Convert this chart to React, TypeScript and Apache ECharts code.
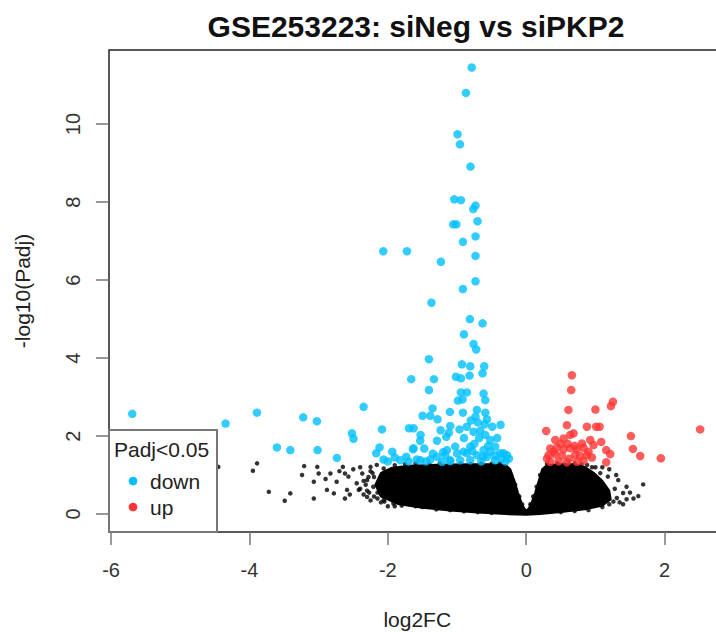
import React, { useEffect, useRef } from "react";
import * as echarts from "echarts";

const TITLE = "GSE253223: siNeg vs siPKP2";
const X_NAME = "log2FC";
const Y_NAME = "-log10(Padj)";
const LEGEND_TITLE = "Padj<0.05";
const LEGEND_LABELS = ["down", "up"];
const X_TICKS = [-6, -4, -2, 0, 2];
const Y_TICKS = [0, 2, 4, 6, 8, 10];

// significantly down-regulated genes [log2FC, -log10(Padj)]
const downPoints: number[][] = [
  [-0.788, 11.45], [-0.871, 10.8], [-0.993, 9.74], [-0.958, 9.48], [-0.805, 8.91],
  [-1.04, 8.07], [-0.944, 8.05], [-0.733, 7.91], [-0.766, 7.82], [-1.055, 7.43],
  [-1.01, 7.43], [-0.704, 7.51], [-0.733, 7.12], [-0.915, 6.98], [-2.066, 6.74],
  [-1.724, 6.74], [-1.233, 6.47], [-0.733, 6.62], [-0.733, 5.97], [-0.915, 5.77],
  [-1.37, 5.42], [-0.814, 5.0], [-0.631, 4.89], [-0.9, 4.61], [-0.761, 4.36],
  [-0.723, 4.22], [-1.406, 3.97], [-0.929, 3.84], [-0.809, 3.79], [-0.607, 3.79],
  [-1.016, 3.52], [-0.944, 3.48], [-0.819, 3.55], [-0.631, 3.61], [-1.662, 3.46],
  [-1.334, 3.46], [-1.406, 3.18], [-0.944, 3.12], [-0.857, 3.12], [-0.617, 3.09],
  [-0.592, 2.92], [-0.987, 2.91], [-0.92, 2.94], [-1.354, 2.71], [-1.103, 2.62],
  [-1.498, 2.52], [-1.387, 2.52], [-1.282, 2.43], [-0.915, 2.6], [-0.713, 2.67],
  [-0.733, 2.5], [-0.592, 2.6], [-0.568, 2.43], [-1.098, 2.26], [-1.238, 2.15],
  [-1.695, 2.2], [-1.628, 2.2], [-2.085, 2.17], [-1.527, 2.03], [-1.117, 2.09],
  [-0.964, 2.17], [-0.857, 2.24], [-0.762, 2.11], [-0.665, 2.14], [-0.491, 2.24],
  [-0.371, 2.29], [-1.532, 1.88], [-1.29, 1.88], [-1.156, 1.98], [-1.474, 1.68],
  [-1.637, 1.66], [-1.936, 1.6], [-2.12, 1.71], [-2.168, 1.56], [-2.062, 1.4],
  [-1.82, 1.38], [-1.734, 1.47], [-1.58, 1.4], [-1.387, 1.4], [-1.17, 1.51],
  [-1.026, 1.73], [-0.906, 1.6], [-0.809, 1.73], [-0.713, 1.51], [-0.617, 1.64],
  [-0.568, 1.47], [-0.448, 1.73], [-0.328, 1.56], [-0.279, 1.51], [-0.52, 1.9],
  [-0.592, 2.03], [-0.809, 1.38], [-0.954, 1.38], [-1.098, 1.36], [-1.218, 1.34],
  [-1.146, 1.64], [-1.29, 1.47], [-1.63, 1.69], [-1.2, 1.59], [-0.857, 1.56],
  [-0.52, 1.6], [-0.376, 1.56], [-1.53, 1.38], [-1.1, 1.38], [-0.65, 1.35],
  [-0.45, 1.38], [-0.35, 1.42], [-0.75, 1.8], [-0.68, 1.95], [-0.9, 1.95],
  [-1.0, 1.55], [-0.55, 1.75], [-0.42, 1.95], [-0.6, 2.3], [-0.7, 2.35],
  [-0.8, 2.4], [-0.45, 1.5], [-0.3, 1.35], [-0.25, 1.42], [-0.62, 1.48],
  [-0.78, 1.62], [-1.35, 1.55], [-1.45, 1.35], [-1.7, 1.35], [-1.9, 1.45],
  [-2.0, 1.35],
  [-5.694, 2.57], [-4.345, 2.32], [-3.892, 2.6], [-3.223, 2.48], [-3.025, 2.38],
  [-2.351, 2.75], [-3.603, 1.71], [-3.41, 1.64], [-3.016, 1.64], [-2.736, 1.44],
  [-2.519, 2.07], [-2.496, 1.93],
];

// significantly up-regulated genes
const upPoints: number[][] = [
  [0.66, 3.56], [0.65, 3.18], [0.61, 2.67], [1.0, 2.68], [1.253, 2.88],
  [1.224, 2.77], [0.588, 2.28], [0.289, 2.13], [0.877, 2.24], [1.01, 2.24],
  [1.06, 2.24], [2.514, 2.17], [1.513, 2.0], [1.542, 1.67], [1.647, 1.49],
  [1.946, 1.43], [1.084, 1.85], [1.156, 1.64], [1.214, 1.54], [1.156, 1.33],
  [0.973, 1.77], [0.419, 1.9], [0.54, 1.94], [0.636, 2.03], [0.684, 2.07],
  [0.805, 1.81], [0.347, 1.68], [0.443, 1.7], [0.54, 1.66], [0.636, 1.69],
  [0.733, 1.67], [0.828, 1.7], [0.322, 1.51], [0.419, 1.53], [0.516, 1.5],
  [0.708, 1.52], [0.78, 1.49], [0.877, 1.51], [0.347, 1.34], [0.467, 1.35],
  [0.588, 1.33], [0.733, 1.34], [0.828, 1.36], [0.925, 1.9], [0.395, 1.6],
  [0.6, 1.8], [0.5, 1.8], [0.9, 1.6], [0.62, 1.42], [0.3, 1.42],
  [0.95, 1.45], [0.7, 1.75],
];

// non-significant genes outside the dense core
const otherPoints: number[][] = [
  [-4.45, 1.21], [-3.89, 1.3], [-3.95, 1.11], [-3.72, 0.57], [-3.41, 0.53],
  [-3.49, 0.34], [-3.21, 1.23], [-3.24, 1.0], [-3.02, 1.21], [-3.0, 1.04],
  [-3.07, 0.83], [-3.07, 0.4], [-2.83, 1.04], [-2.74, 0.83], [-2.62, 1.04],
  [-2.65, 1.21], [-2.57, 0.96], [-2.59, 0.62], [-2.78, 0.53], [-2.62, 0.4],
  [-2.37, 1.04], [-2.45, 0.79], [-2.42, 0.62], [-2.3, 0.87], [-2.25, 1.21],
  [-2.21, 0.7], [-2.06, 0.36], [-2.06, 1.17], [-2.16, 1.26], [-1.97, 1.04],
  [-1.92, 0.27], [-2.3, 0.44], [-2.88, 0.62], [-2.5, 1.15], [-2.35, 0.5],
  [-2.2, 0.95], [-2.25, 0.35], [-2.15, 0.55], [-2.4, 1.2], [-2.1, 0.3],
  [-2.0, 0.2], [-1.9, 0.2], [-2.7, 1.1], [-2.9, 0.9], [-2.55, 0.5],
  [-2.3, 0.6], [-2.28, 0.95], [-2.25, 1.1], [-2.32, 0.75], [-2.2, 0.45],
  [-2.22, 1.05], [-2.35, 0.85], [-2.15, 0.4], [-2.05, 0.32], [-2.4, 0.65],
  [-2.27, 0.55], [-1.8, 0.22], [-1.6, 0.2],
  [1.69, 0.76], [1.62, 0.46], [1.45, 0.7], [1.4, 0.54], [1.31, 0.41],
  [1.33, 0.87], [1.18, 0.96], [1.07, 1.05], [0.88, 1.26], [1.26, 0.32],
  [1.5, 0.55], [1.35, 0.3], [1.3, 1.0], [1.2, 1.15], [1.1, 1.2],
  [1.4, 0.25], [1.55, 0.4], [1.28, 0.65], [1.45, 0.38], [1.0, 1.2],
  [-1.9, 1.25], [-1.75, 1.28], [-1.6, 1.3], [-1.4, 1.28], [-1.25, 1.3],
  [-1.1, 1.27], [-0.95, 1.3], [-0.8, 1.28], [-0.65, 1.3], [-0.5, 1.29],
  [-0.38, 1.3], [0.3, 1.29], [0.45, 1.3], [0.55, 1.27], [0.7, 1.3],
  [0.8, 1.28], [0.95, 1.2], [-1.7, 0.25], [-1.5, 0.18], [-1.3, 0.12],
  [-1.1, 0.1], [-0.9, 0.07], [-0.7, 0.05], [-0.5, 0.03], [0.5, 0.05],
  [0.7, 0.08], [0.9, 0.1], [1.1, 0.18], [1.2, 0.25], [-0.22, 1.0],
  [-0.16, 0.75], [-0.1, 0.45], [-0.06, 0.25], [0.06, 0.25], [0.1, 0.45],
  [0.15, 0.7], [0.2, 1.0],
];

// outline of the dense cloud of thousands of non-significant genes
const cloudOutline: number[][] = [
  [-2.1, 0.45], [-2.18, 0.75], [-2.1, 1.05], [-1.95, 1.18], [-1.7, 1.24],
  [-1.4, 1.26], [-1.1, 1.27], [-0.8, 1.28], [-0.5, 1.28], [-0.3, 1.26],
  [-0.23, 1.15], [-0.17, 0.85], [-0.12, 0.55], [-0.07, 0.3], [-0.03, 0.15],
  [0.0, 0.08], [0.04, 0.16], [0.08, 0.3], [0.13, 0.55], [0.18, 0.85],
  [0.23, 1.15], [0.3, 1.26], [0.5, 1.28], [0.7, 1.28], [0.85, 1.2],
  [0.98, 1.05], [1.1, 0.85], [1.2, 0.6], [1.22, 0.38], [1.1, 0.22],
  [0.85, 0.12], [0.5, 0.05], [0.2, 0.0], [0.0, -0.02], [-0.3, 0.0],
  [-0.7, 0.04], [-1.1, 0.09], [-1.5, 0.16], [-1.85, 0.26],
];

const COLORS = { down: "#00BFFF", up: "#FF3333", none: "#000000" };

export default function App() {
  const ref = useRef<HTMLDivElement>(null);
  useEffect(() => {
    const el = ref.current;
    if (!el) return;
    const chart = echarts.init(el, null, { renderer: "svg" });
    const font = "'Liberation Sans', Arial, Helvetica, sans-serif";
    chart.setOption({
      animation: false,
      backgroundColor: "#ffffff",
      textStyle: { fontFamily: font },
      grid: {
        left: 109,
        top: 50,
        width: 616.5,
        height: 482,
        outerBoundsMode: "none",
        containLabel: false,
        show: true,
        borderColor: "#222",
        borderWidth: 1.5,
        backgroundColor: "transparent",
      },
      xAxis: {
        type: "value",
        min: -6.03,
        max: 2.88,
        name: X_NAME,
        nameLocation: "middle",
        nameGap: 77,
        nameTextStyle: { fontSize: 21, color: "#222", fontFamily: font },
        axisLine: { show: false, onZero: false },
        splitLine: { show: false },
        axisTick: {
          show: true,
          inside: false,
          length: 13,
          customValues: X_TICKS,
          lineStyle: { color: "#777", width: 1.5 },
        },
        axisLabel: {
          customValues: X_TICKS,
          margin: 28,
          fontSize: 20,
          color: "#333",
          fontFamily: font,
        },
      },
      yAxis: {
        type: "value",
        min: -0.46,
        max: 11.9,
        name: Y_NAME,
        nameLocation: "middle",
        nameGap: 76,
        nameTextStyle: { fontSize: 21, color: "#222", fontFamily: font },
        axisLine: { show: false, onZero: false },
        splitLine: { show: false },
        axisTick: {
          show: true,
          inside: false,
          length: 13,
          customValues: Y_TICKS,
          lineStyle: { color: "#777", width: 1.5 },
        },
        axisLabel: {
          customValues: Y_TICKS,
          rotate: 90,
          margin: 26,
          fontSize: 20,
          color: "#333",
          fontFamily: font,
        },
      },
      series: [
        {
          type: "custom",
          name: "cloud",
          data: [[0, 0]],
          silent: true,
          renderItem: (_params: any, api: any) => ({
            type: "polygon",
            shape: { points: cloudOutline.map((p) => api.coord(p)) },
            style: { fill: COLORS.none, stroke: COLORS.none, lineWidth: 2 },
          }),
        },
        {
          type: "scatter",
          name: "ns",
          data: otherPoints,
          symbolSize: 4.5,
          itemStyle: { color: COLORS.none },
        },
        {
          type: "scatter",
          name: "down",
          data: downPoints,
          symbolSize: 8.5,
          itemStyle: { color: COLORS.down },
        },
        {
          type: "scatter",
          name: "up",
          data: upPoints,
          symbolSize: 8.5,
          itemStyle: { color: COLORS.up },
        },
      ],
      graphic: [
        {
          type: "text",
          x: 416,
          y: 26,
          z: 100,
          style: {
            text: TITLE,
            fontSize: 30,
            fontWeight: "bold",
            fontFamily: font,
            fill: "#111",
            textAlign: "center",
            textVerticalAlign: "middle",
          },
        },
        {
          type: "rect",
          z: 100,
          shape: { x: 109, y: 430, width: 108, height: 102 },
          style: { fill: "#fff", stroke: "#777", lineWidth: 2 },
        },
        {
          type: "text",
          x: 114,
          y: 449,
          z: 101,
          style: {
            text: LEGEND_TITLE,
            fontSize: 21,
            fontFamily: font,
            fill: "#222",
            textVerticalAlign: "middle",
          },
        },
        {
          type: "circle",
          z: 101,
          shape: { cx: 133, cy: 481, r: 4.3 },
          style: { fill: COLORS.down },
        },
        {
          type: "text",
          x: 150,
          y: 481,
          z: 101,
          style: {
            text: LEGEND_LABELS[0],
            fontSize: 21,
            fontFamily: font,
            fill: "#222",
            textVerticalAlign: "middle",
          },
        },
        {
          type: "circle",
          z: 101,
          shape: { cx: 133, cy: 507, r: 4.3 },
          style: { fill: COLORS.up },
        },
        {
          type: "text",
          x: 150,
          y: 507,
          z: 101,
          style: {
            text: LEGEND_LABELS[1],
            fontSize: 21,
            fontFamily: font,
            fill: "#222",
            textVerticalAlign: "middle",
          },
        },
      ],
    });
    return () => chart.dispose();
  }, []);
  return (
    <div
      ref={ref}
      style={{ position: "fixed", left: 0, top: 0, width: 716, height: 632 }}
    />
  );
}
